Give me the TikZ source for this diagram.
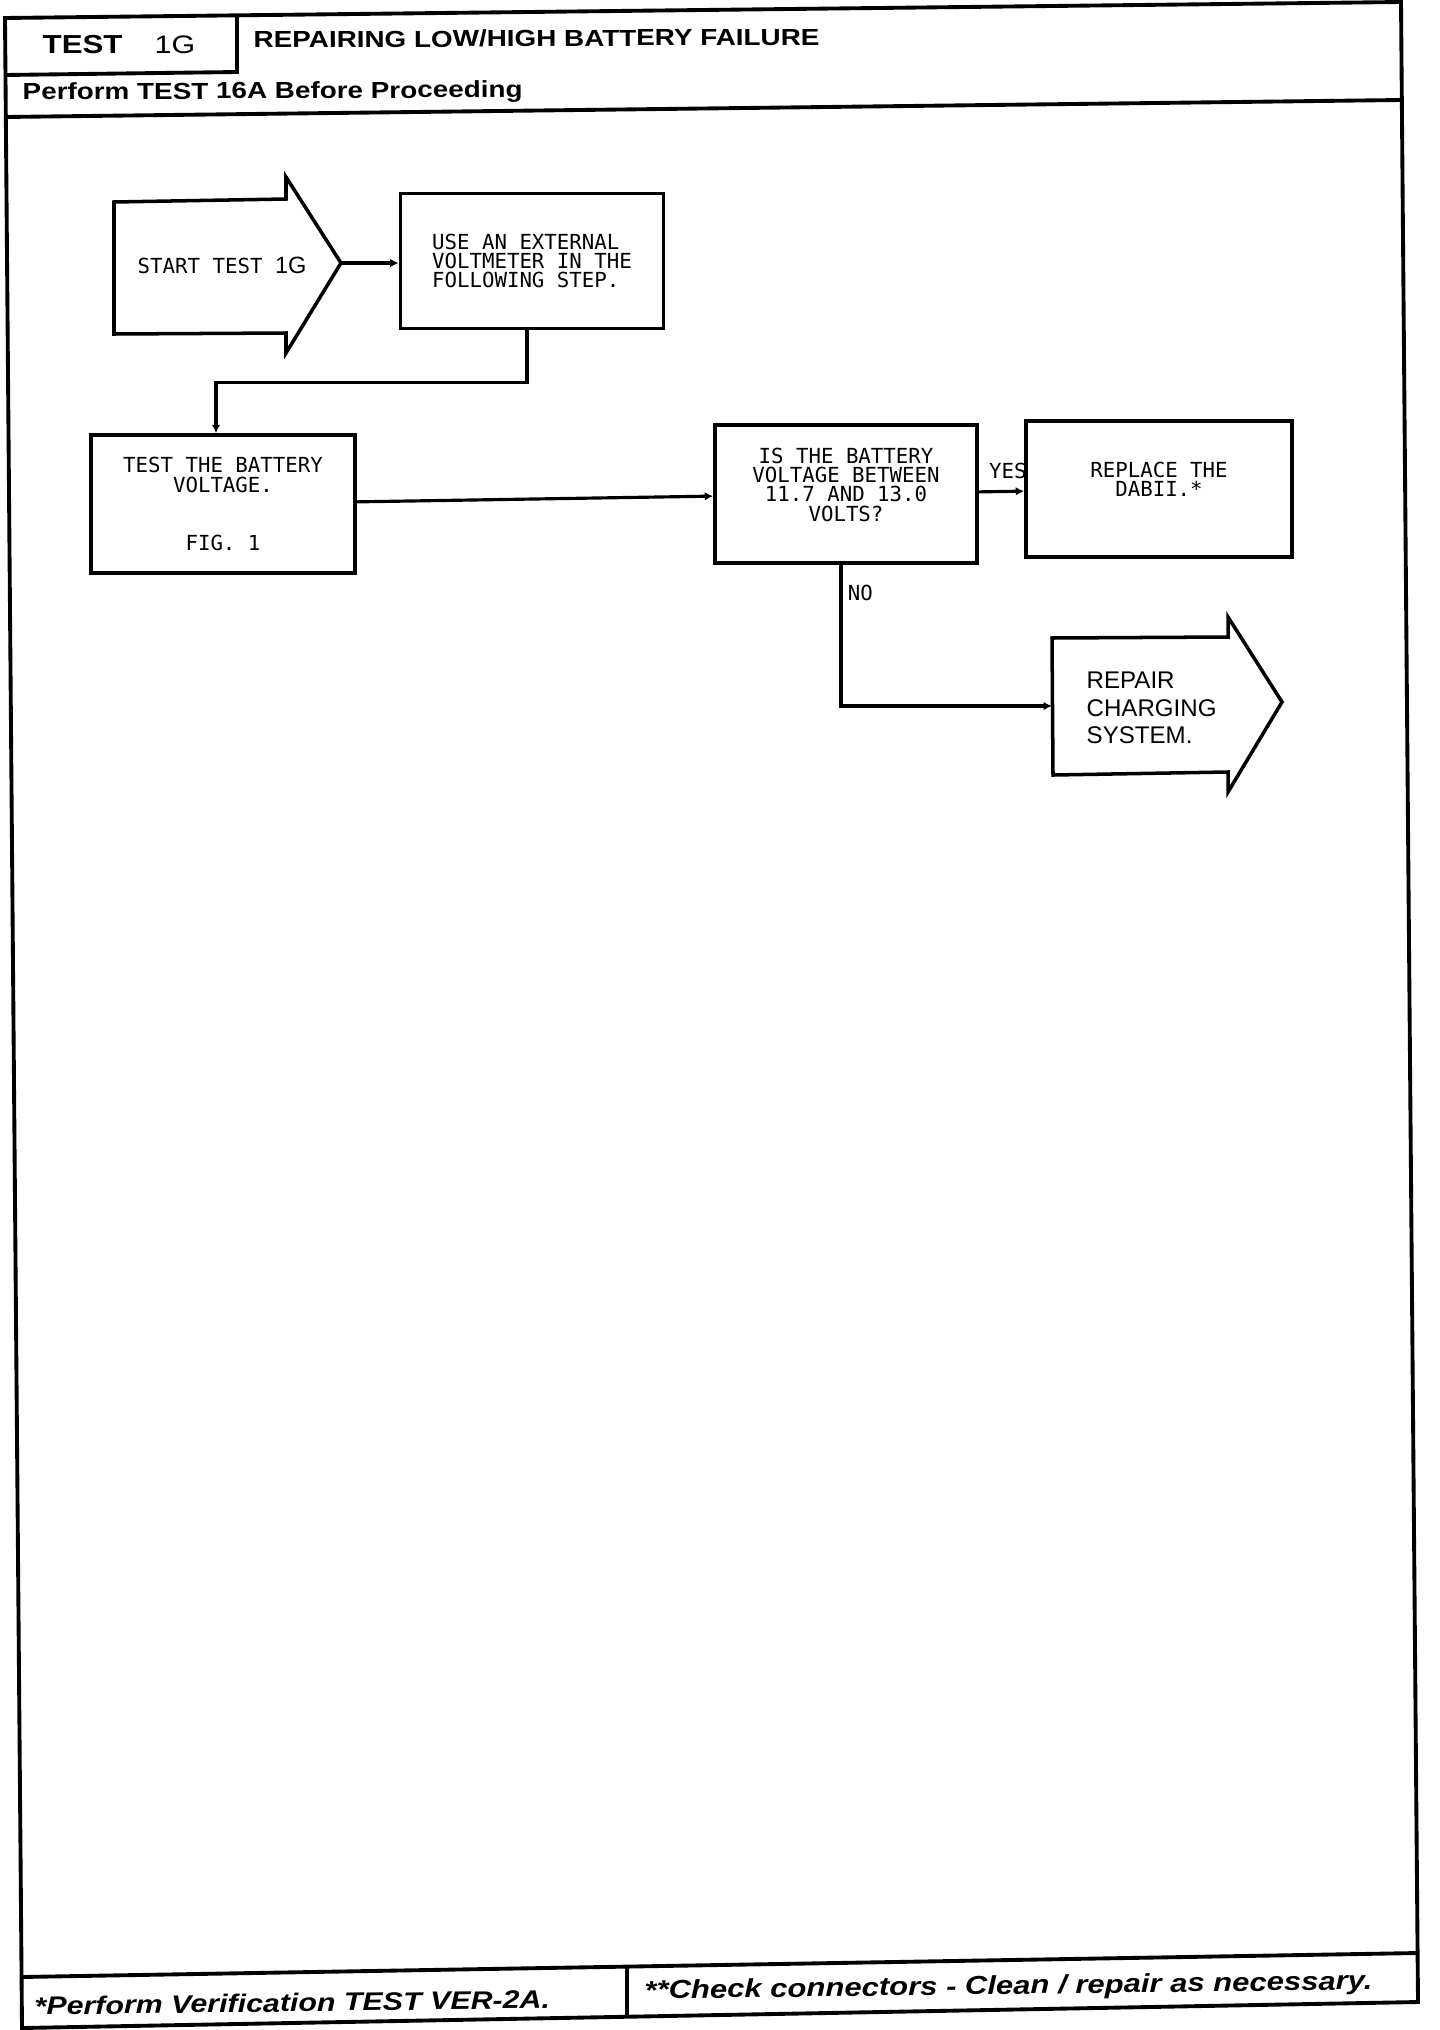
\documentclass[tikz,border=0pt]{standalone}
\usepackage{fontspec}
\setmainfont{Liberation Sans}
\newfontfamily\headfont[FakeStretch=1.2]{Liberation Sans}
\newfontfamily\plotter{DejaVu Sans Mono}
\usetikzlibrary{arrows.meta,positioning}

\begin{document}
\begin{tikzpicture}[
        x=0.01cm, y=-0.01cm,
        >={Latex[length=2.4pt,width=2.4pt]},
        frame/.style={line width=1.1pt, line join=miter},
        box/.style={draw, line width=1pt, inner sep=0pt, align=center, font=\plotter\fontsize{5.9pt}{5.5pt}\selectfont},
        bigarrow/.style={draw, line width=1pt, line join=miter},
        link/.style={->, line width=0.9pt},
        lbl/.style={inner sep=0pt, font=\plotter\fontsize{5.9pt}{5.5pt}\selectfont},
        head/.style={inner sep=0pt, anchor=base west, rotate=0.3, font=\headfont\bfseries\fontsize{6.5pt}{7pt}\selectfont},
        foot/.style={head, rotate=0.45, font=\headfont\bfseries\itshape\fontsize{7.2pt}{8pt}\selectfont}
    ]
  \useasboundingbox (0,0) rectangle (1440,2030);

  % Frame
  \draw[frame] (5,18) -- (1401,2) -- (1418,2002) -- (22,2028) -- cycle;
  \draw[frame] (5,75) -- (237,72) -- (237,16);
  \draw[frame] (5,117) -- (1401,100);
  \draw[frame] (21,1977) -- (1418,1953);
  \draw[frame] (627,1967) -- (627,2017);

  % Header and footer
  \node (testname) [head, rotate=-0.3, font=\headfont\bfseries\fontsize{7.4pt}{8pt}\selectfont] at (42,54) {TEST};
  \node (testno) [head, rotate=-0.3, font=\headfont\fontsize{7.2pt}{8pt}\selectfont] at (154,54) {1G};
  \node (title) [head, font=\headfont\bfseries\fontsize{6.6pt}{7pt}\selectfont] at (253,48) {REPAIRING LOW/HIGH BATTERY FAILURE};
  \node (before) [head, font=\headfont\bfseries\fontsize{6.6pt}{7pt}\selectfont] at (22,100) {Perform TEST 16A Before Proceeding};
  \node (verify) [foot] at (34,2015) {*Perform Verification TEST VER-2A.};
  \node (clean) [foot, font=\headfont\bfseries\itshape\fontsize{7.35pt}{8pt}\selectfont] at (644,1999) {**Check connectors - Clean / repair as necessary.};

  % Nodes
  \draw[bigarrow] (114,202) -- (286,199) -- (286,177) -- (341,263) -- (286,353) -- (286,333) -- (114,334) -- cycle;
  \coordinate (starttip) at (341,263);
  \node (start) [lbl, anchor=west] at (137,265) {START TEST~{\rmfamily\fontsize{6.7pt}{5.5pt}\selectfont 1G}};
  \node (use) [box, align=left, minimum width=2.63cm, minimum height=1.35cm] at (532,261) {USE AN EXTERNAL\\VOLTMETER IN THE\\FOLLOWING STEP.};
  \node (battery) [box, minimum width=2.64cm, minimum height=1.38cm] at (223,504) {TEST THE BATTERY\\VOLTAGE.\\~\\~\\FIG. 1};
  \node (check) [box, minimum width=2.62cm, minimum height=1.38cm] at (846,494) {IS THE BATTERY\\VOLTAGE BETWEEN\\11.7 AND 13.0\\VOLTS?\\~};
  \node (replace) [box, minimum width=2.66cm, minimum height=1.36cm] at (1159,489) {REPLACE THE\\DABII.*\\~};
  \draw[bigarrow] (1052,638) -- (1228,637) -- (1228,617) -- (1282,702) -- (1228,792) -- (1228,772) -- (1053,775) -- cycle;
  \coordinate (repairin) at (1052,706);
  \node (repair) [anchor=west, align=left, inner sep=0pt, font=\fontsize{6.85pt}{7.8pt}\selectfont] at (1086,708) {REPAIR\\CHARGING\\SYSTEM.};

  \draw[link] (starttip) -- (starttip -| use.west);
  \draw[link] ([xshift=-0.05cm]use.south) -- ++(0,52) -| ([xshift=-0.07cm]battery.north);
  \draw[link] (battery) -- (check);
  \draw[link] (check) -- node[lbl, above=3pt, pos=0.64] {YES} (replace);
  \draw[link] ([xshift=-0.05cm]check.south) |- node[lbl, right=1.5pt, pos=0.1] {NO} (repairin);
\end{tikzpicture}
\end{document}
